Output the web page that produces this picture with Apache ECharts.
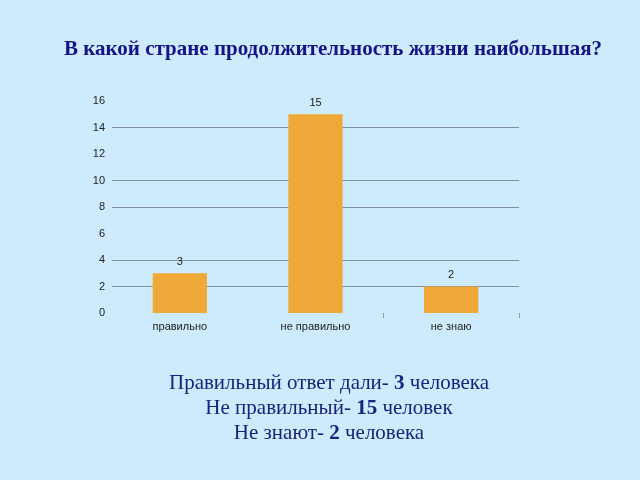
<!DOCTYPE html>
<html><head><meta charset="utf-8">
<script src="https://cdn.jsdelivr.net/npm/echarts@6/dist/echarts.min.js"></script>
<style>html,body{margin:0;padding:0;background:#cdebfc;}#c{width:640px;height:480px;}</style>
</head><body><div id="c"></div>
<script>
const categories = ['правильно', 'не правильно', 'не знаю'];
const values = [3, 15, 2];
const yTicks = [0, 2, 4, 6, 8, 10, 12, 14, 16];
const boundaryTicks = [2, 3];
const titleText = 'В какой стране продолжительность жизни наибольшая?';
const summaryPrefix = ['Правильный ответ дали- ', 'Не правильный- ', 'Не знают- '];
const summarySuffix = [' человека', ' человек', ' человека'];

const G = 'rgba(130,145,155,1)', T = 'rgba(0,0,0,0)';
const chart = echarts.init(document.getElementById('c'));
const summary = values.map((v, i) => '{n|' + summaryPrefix[i] + '}{b|' + v + '}{n|' + summarySuffix[i] + '}').join('\n');
chart.setOption({
  backgroundColor: '#cdebfc',
  title: [{
    text: titleText, left: 328, top: 34, textAlign: 'center',
    textStyle: {fontFamily: 'Liberation Serif', fontWeight: 'bold', fontSize: 21, color: '#14148a'}
  }, {
    text: summary, left: 324, top: 366, textAlign: 'center',
    textStyle: {
      fontWeight: 'normal',
      rich: {
        n: {fontFamily: 'Liberation Serif', fontSize: 21, fontWeight: 'normal', color: '#1a2280', lineHeight: 25},
        b: {fontFamily: 'Liberation Serif', fontSize: 21, fontWeight: 'bold', color: '#1a2280', lineHeight: 25}
      }
    }
  }],
  grid: {left: 112, right: 121, top: 101, bottom: 167},
  xAxis: [{
    type: 'category', data: categories,
    axisLine: {show: false},
    axisTick: {show: false},
    axisLabel: {fontFamily: 'Liberation Sans', fontSize: 11, color: '#222', margin: 8}
  }, {
    type: 'value', position: 'bottom', min: 0, max: categories.length,
    axisLine: {show: false, onZero: false},
    axisTick: {show: true, length: 5, customValues: boundaryTicks, lineStyle: {color: '#8a98a0'}},
    axisLabel: {show: false},
    splitLine: {show: false}
  }],
  yAxis: {
    type: 'value', min: yTicks[0], max: yTicks[yTicks.length - 1], interval: 2,
    axisLine: {show: false}, axisTick: {show: false},
    axisLabel: {fontFamily: 'Liberation Sans', fontSize: 11, color: '#222', margin: 7},
    splitLine: {show: true, lineStyle: {color: [T, G, G, T, G, G, T, G, T], width: 1}}
  },
  series: [{
    type: 'bar', data: values, barWidth: '40%',
    itemStyle: {color: '#f0a838'},
    label: {show: true, position: 'top', fontFamily: 'Liberation Sans', fontSize: 11, color: '#222', distance: 6}
  }]
});
</script></body></html>
